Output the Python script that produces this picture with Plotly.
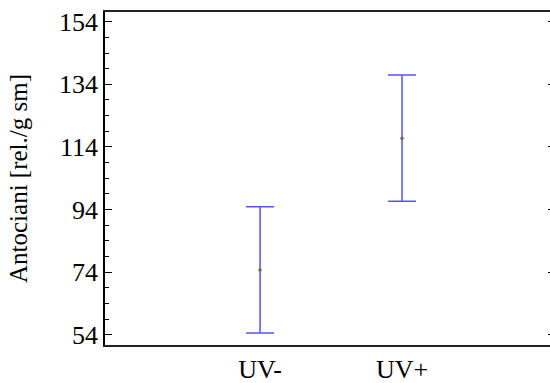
import plotly.graph_objects as go

# Group means with their error half-widths
groups = ["UV-", "UV+"]
means = [74.7, 116.8]
errors = [20.2, 20.2]

y_ticks = [54, 74, 94, 114, 134, 154]

serif = "Liberation Serif, Times New Roman, serif"
bar_blue = "rgb(85,85,240)"

fig = go.Figure()
fig.add_trace(go.Scatter(
    x=groups,
    y=means,
    mode="markers",
    marker=dict(size=3.5, color="#6f6f4a"),
    error_y=dict(type="data", array=errors, visible=True,
                 color=bar_blue, thickness=1.5, width=14),
    showlegend=False,
))
# invisible companion trace that carries the right-hand tick marks
fig.add_trace(go.Scatter(x=groups, y=means, yaxis="y2", mode="markers",
                         marker=dict(opacity=0), showlegend=False,
                         hoverinfo="skip"))

fig.update_layout(
    width=550,
    height=383,
    margin=dict(l=105, r=0, t=12, b=38),
    paper_bgcolor="white",
    plot_bgcolor="white",
    font=dict(family=serif, size=26, color="black"),
    xaxis=dict(
        type="category",
        range=[-1.092, 2.042],
        showline=True, linewidth=2, linecolor="#222",
        mirror=True,
        ticks="", showgrid=False, zeroline=False,
        tickfont=dict(size=26),
    ),
    yaxis=dict(
        range=[50.7, 157.1],
        tickvals=y_ticks,
        ticks="inside", ticklen=7, tickwidth=1, tickcolor="black",
        minor=dict(dtick=5, tick0=54, ticks="inside", ticklen=4,
                   tickcolor="black", tickwidth=1),
        showline=True, linewidth=1.5, linecolor="black",
        showgrid=False, zeroline=False,
        title=dict(text="Antociani [rel./g sm]", font=dict(size=25),
                   standoff=24),
        tickfont=dict(size=26),
    ),
    yaxis2=dict(
        overlaying="y", side="right", matches="y",
        tickvals=y_ticks, ticks="inside", ticklen=2, tickcolor="black",
        showticklabels=False, showline=False, showgrid=False,
        zeroline=False,
    ),
)

fig.write_html("out.html")
